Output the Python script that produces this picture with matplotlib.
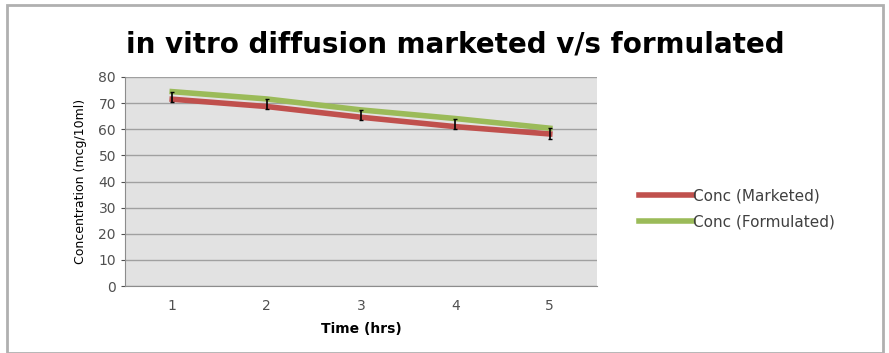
import matplotlib.pyplot as plt
from matplotlib.patches import Rectangle

time_hrs = [1, 2, 3, 4, 5]
conc_marketed = [71.5, 68.7, 64.6, 61.0, 58.2]
conc_formulated = [74.4, 71.6, 67.4, 64.1, 60.4]
err_formulated = [2.0, 2.0, 2.0, 2.0, 2.0]
y_ticks = [0, 10, 20, 30, 40, 50, 60, 70, 80]

fig = plt.figure(figsize=(8.89, 3.53), dpi=100)
fig.patches.append(Rectangle((0.008, 0.0), 0.985, 0.985, transform=fig.transFigure,
                             fill=False, edgecolor='#b0b0b0', linewidth=2))

ax = fig.add_axes([125 / 889, 1 - 286 / 353, 472 / 889, 209 / 353])
ax.set_facecolor('#e2e2e2')
for sp in ['top', 'right']:
    ax.spines[sp].set_visible(False)
for sp in ['left', 'bottom']:
    ax.spines[sp].set_color('#8c8c8c')

ax.plot(time_hrs, conc_marketed, color='#c0504d', linewidth=4, label='Conc (Marketed)', zorder=3)
ax.plot(time_hrs, conc_formulated, color='#9bbb59', linewidth=4, label='Conc (Formulated)', zorder=3)
ax.errorbar(time_hrs, [v - 2 for v in conc_formulated], yerr=err_formulated, fmt='none',
            ecolor='black', elinewidth=1.2, capsize=1.5, zorder=4)

ax.set_xlim(0.5, 5.5)
ax.set_ylim(0, 80)
ax.set_yticks(y_ticks)
ax.set_xticks(time_hrs)
ax.yaxis.grid(True, color='#a0a0a0', linewidth=1)
ax.set_axisbelow(True)
ax.tick_params(axis='both', labelsize=10, colors='#505050', length=3)
ax.tick_params(axis='x', length=0, pad=9)

ax.set_xlabel('Time (hrs)', fontsize=10, fontweight='bold', labelpad=7)
ax.set_ylabel('Concentration (mcg/10ml)', fontsize=9, labelpad=8)
fig.text(0.512, 0.875, 'in vitro diffusion marketed v/s formulated', fontsize=20,
         fontweight='bold', ha='center', va='center')

leg = ax.legend(loc='center left', bbox_to_anchor=(1.06, 0.37), frameon=False, fontsize=11,
                handlelength=3.5, handletextpad=0.05, labelspacing=0.7)
for t in leg.get_texts():
    t.set_color('#404040')

fig.savefig('out.png', dpi=100)
